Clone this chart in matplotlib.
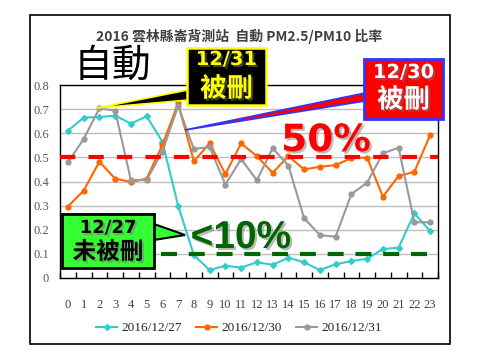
import matplotlib
matplotlib.use('Agg')
from matplotlib import pyplot as plt
from matplotlib.patches import Rectangle, Polygon
import matplotlib.patheffects as pe

hours = list(range(24))
ratio_1227 = [0.61, 0.665, 0.667, 0.673, 0.64, 0.67, 0.565, 0.30, 0.095, 0.033, 0.051, 0.043,
              0.065, 0.055, 0.084, 0.065, 0.033, 0.057, 0.07, 0.08, 0.12, 0.126, 0.268, 0.195]
ratio_1230 = [0.296, 0.362, 0.482, 0.412, 0.398, 0.412, 0.551, 0.724, 0.484, 0.558, 0.431, 0.558,
              0.505, 0.436, 0.505, 0.45, 0.461, 0.468, 0.497, 0.499, 0.337, 0.423, 0.44, 0.593]
ratio_1231 = [0.479, 0.576, 0.703, 0.694, 0.406, 0.406, 0.524, 0.713, 0.535, 0.543, 0.387, 0.493,
              0.405, 0.538, 0.466, 0.248, 0.178, 0.171, 0.348, 0.395, 0.517, 0.54, 0.231, 0.231]
series = [('2016/12/27', ratio_1227, '#33CCCC', 'D', 3),
          ('2016/12/30', ratio_1230, '#FF6600', 'o', 3.5),
          ('2016/12/31', ratio_1231, '#999999', 'o', 3.5)]
y_ticks = [0, 0.1, 0.2, 0.3, 0.4, 0.5, 0.6, 0.7, 0.8]
level_high = 0.5
level_low = 0.1

title = '2016 雲林縣崙背測站  自動 PM2.5/PM10 比率'
cjk = ['Noto Sans CJK TC', 'DejaVu Sans']
plt.rcParams['lines.scale_dashes'] = False

fig = plt.figure(figsize=(4.8, 3.6), dpi=100)
W, H = 480, 360
ax = fig.add_axes([60 / W, 1 - 278 / H, 378 / W, 193 / H])

for label, vals, col, mk, ms in series:
    ax.plot(hours, vals, color=col, lw=1.5, marker=mk, ms=ms, label=label, zorder=3)

ax.axhline(level_high, color='#FF0000', lw=3, dashes=(11, 9.5), zorder=4)
ax.plot([5.9, 22.95], [level_low, level_low], color='#006600', lw=3, dashes=(11.5, 8.5), zorder=4)

ax.set_xlim(-0.5, 23.5)
ax.set_ylim(0, 0.8)
ax.set_yticks(y_ticks)
ax.set_yticklabels([('%g' % v) for v in y_ticks])
ax.set_xticks(hours)
ax.set_xticks([h - 0.5 for h in hours] + [23.5], minor=True)
ax.tick_params(axis='x', which='major', length=0, pad=15, labelsize=9, labelcolor='#404040')
ax.tick_params(axis='x', which='minor', direction='in', length=4, width=1, color='black')
ax.tick_params(axis='y', length=0, pad=8, labelsize=9, labelcolor='#595959')
for t in ax.get_xticklabels() + ax.get_yticklabels():
    t.set_fontfamily('Liberation Serif')
ax.grid(axis='y', color='#BFBFBF', lw=1)
ax.set_axisbelow(True)
for s in ax.spines.values():
    s.set_color('black')
    s.set_linewidth(1)

leg = fig.legend(loc='center', bbox_to_anchor=(239 / W, 1 - 328 / H), ncol=3, frameon=False,
                 prop={'family': 'Liberation Serif', 'size': 9.5}, handlelength=1.6,
                 handletextpad=0.3, columnspacing=1.1)
for t in leg.get_texts():
    t.set_color('#262626')

# overlay in pixel coordinates for frame, title and callouts
ov = fig.add_axes([0, 0, 1, 1], zorder=10)
ov.set_xlim(0, W)
ov.set_ylim(H, 0)
ov.axis('off')
ov.patch.set_alpha(0)

ov.add_patch(Rectangle((30, 15), 420, 329, fill=False, ec='black', lw=1.2))
ov.text(239, 36, title, ha='center', va='center', fontsize=10, fontweight='bold',
        color='#404040', family=cjk)
ov.text(112, 66, '自動', ha='center', va='center', fontsize=28, color='black', family=cjk)

shadow = [pe.withSimplePatchShadow(offset=(1.5, -1.5), shadow_rgbFace='#777777', alpha=0.5)]

# 12/31 callout
ov.add_patch(Polygon([(97, 108), (188, 90), (188, 100)], closed=True, fc='black', ec='#FFFF00', lw=1.2))
ov.add_patch(Rectangle((187, 48), 79, 57, fc='black', ec='#FFFF00', lw=1.8))
ov.text(226.5, 65, '12/31', ha='center', va='baseline', fontsize=14, fontweight='bold',
        color='#FFFF00', family='DejaVu Sans', path_effects=shadow)
ov.text(226.5, 89, '被刪', ha='center', va='center', fontsize=19, fontweight='bold',
        color='#FFFF00', family=cjk, path_effects=shadow)

# 12/30 callout
ov.add_patch(Polygon([(185, 130), (365, 93), (365, 101)], closed=True, fc='#FF0000', ec='#3333FF', lw=1.2))
ov.add_patch(Rectangle((364, 59), 79, 60, fc='#FF0000', ec='#3333FF', lw=2))
ov.text(403.5, 78, '12/30', ha='center', va='baseline', fontsize=14, fontweight='bold',
        color='white', family='DejaVu Sans', path_effects=shadow)
ov.text(403.5, 100, '被刪', ha='center', va='center', fontsize=19, fontweight='bold',
        color='white', family=cjk, path_effects=shadow)

# 12/27 callout
ov.add_patch(Polygon([(185, 235), (154, 224), (154, 240)], closed=True, fc='#33FF33', ec='black', lw=1.5))
ov.add_patch(Rectangle((62, 214), 92, 54, fc='#33FF33', ec='black', lw=2))
ov.text(108, 233, '12/27', ha='center', va='baseline', fontsize=13, fontweight='bold',
        color='black', family='DejaVu Sans', path_effects=shadow)
ov.text(108, 252, '未被刪', ha='center', va='center', fontsize=17, fontweight='bold',
        color='black', family=cjk, path_effects=shadow)

ov.text(326, 151, '50%', ha='center', va='baseline', fontsize=27, fontweight='bold',
        color='#FF0000', family='DejaVu Sans', path_effects=shadow)
ov.text(241, 248, '<10%', ha='center', va='baseline', fontsize=28, fontweight='bold',
        color='#006600', family='Liberation Sans', path_effects=shadow)

fig.savefig('out.png', dpi=100)
